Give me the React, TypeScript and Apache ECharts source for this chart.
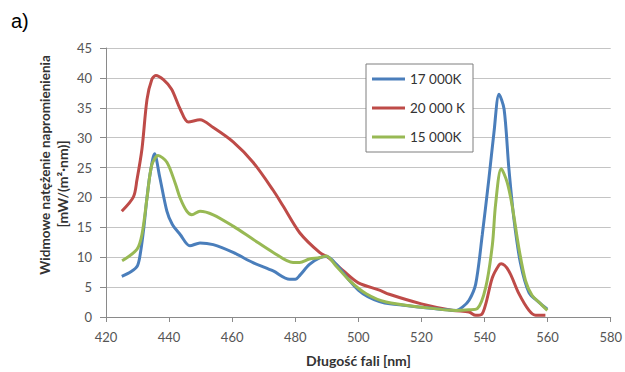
import React, { useEffect, useRef } from "react";
import * as echarts from "echarts";

const xTicks = { min: 420, max: 580, interval: 20 };
const yTicks = { min: 0, max: 45, interval: 5 };

const legendNames = ["17 000K", "20 000 K", "15 000K"];
const xAxisTitle = "Długość fali [nm]";
const yAxisTitleLines = ["Widmowe natężenie napromienienia", "[mW/(m²·nm)]"];

const blueX = [425, 428, 430, 431, 432, 433, 434, 435.4, 437, 439.3, 441, 443.5, 446.6, 449.8, 454, 460.3, 466.6, 473, 478.2, 480, 481.5, 484.5, 487.7, 490, 493, 497, 500, 503, 506.7, 510, 520, 531, 533, 535.1, 537.2, 539.3, 541.4, 543, 544.6, 546.2, 547.7, 549.3, 551.4, 554.1, 557.2, 559.9];
const blueY = [6.8, 7.6, 8.6, 11, 15, 20, 24, 27.3, 23.5, 17.7, 15.5, 13.8, 11.9, 12.4, 12.1, 10.8, 9.1, 7.7, 6.3, 6.3, 7, 8.8, 9.9, 10.1, 8.8, 6.2, 4.5, 3.4, 2.6, 2.2, 1.65, 1.1, 1.65, 2.8, 5.5, 13.8, 23.2, 30.9, 37.25, 34.8, 25, 16.5, 9, 4.1, 2.5, 1.3];

const redX = [425, 428.7, 429.8, 431.4, 433, 434.5, 435.8, 438.2, 440.8, 443.5, 446.1, 449.8, 454, 460.3, 466.6, 473, 476.1, 481.4, 487.7, 490.6, 495.3, 500, 506.7, 509.8, 520, 530, 535.1, 537.2, 539.1, 540.4, 542.5, 544.6, 545.3, 547.7, 550.9, 554.1, 556.2, 559.3];
const redY = [17.7, 20.1, 22.9, 28.1, 36.4, 39.7, 40.4, 39.7, 38.1, 34.8, 32.6, 33, 31.7, 29.3, 25.9, 21.2, 18.6, 14.1, 10.8, 9.9, 7.7, 5.7, 4.5, 3.8, 2.2, 1.1, 0.83, 0.28, 0.44, 2.2, 6.6, 8.7, 8.9, 7.7, 3.9, 1.1, 0.3, 0.3];

const greenX = [425.1, 429.8, 431.4, 433, 434.5, 436.5, 439.3, 442, 443.5, 445.6, 447.2, 449.8, 454, 460.3, 466.6, 473, 479.3, 481.4, 484.5, 487.7, 489.8, 493, 497.2, 502.5, 508.8, 520, 531, 535, 537.7, 540.4, 542.5, 543.5, 545.3, 547.2, 548.8, 550.9, 553, 555.1, 557.2, 559.9];
const greenY = [9.4, 11.3, 13.8, 19.9, 25.4, 27, 25.9, 22.3, 19.9, 17.7, 17.1, 17.7, 17.1, 15.2, 13, 10.8, 9.1, 9.1, 9.7, 9.9, 10.2, 8.5, 6.1, 3.9, 2.5, 1.65, 1.1, 1.2, 1.4, 5, 12.1, 18.8, 24.8, 22.5, 18.5, 11.5, 6.1, 3.6, 2.5, 1.1];

const colors = ["#4A7EBB", "#BE4B48", "#98B954"];

function pairs(xs: number[], ys: number[]) {
  return xs.map((x, i) => [x, ys[i]]);
}

export default function App() {
  const ref = useRef<HTMLDivElement>(null);
  useEffect(() => {
    if (!ref.current) return;
    const chart = echarts.init(ref.current, null, { renderer: "svg" });
    const font = "Lato, 'Open Sans', sans-serif";
    chart.setOption({
      animation: false,
      backgroundColor: "#ffffff",
      title: {
        text: "a)",
        left: 6,
        top: 6,
        textStyle: { fontFamily: "'Liberation Sans', Arial, sans-serif", fontSize: 20, fontWeight: "normal", color: "#000" },
      },
      legend: {
        orient: "vertical",
        left: 366,
        top: 64,
        width: 105,
        data: legendNames,
        icon: "rect",
        itemWidth: 33,
        itemHeight: 3,
        itemGap: 15,
        padding: [8, 8, 8, 6],
        borderColor: "#7f7f7f",
        borderWidth: 1,
        backgroundColor: "#ffffff",
        textStyle: { fontFamily: font, fontSize: 13.5, color: "#333" },
      },
      graphic: [
        {
          type: "text",
          x: 45,
          y: 165,
          rotation: Math.PI / 2,
          style: { text: yAxisTitleLines[0], fontFamily: font, fontSize: 13.5, fontWeight: "bold", fill: "#333", align: "center", verticalAlign: "middle" },
        },
        {
          type: "text",
          x: 62,
          y: 184,
          rotation: Math.PI / 2,
          style: { text: yAxisTitleLines[1], fontFamily: font, fontSize: 14, fontWeight: "bold", fill: "#333", align: "center", verticalAlign: "middle" },
        },
      ],
      grid: { left: 106, right: 14, top: 48, bottom: 52 },
      xAxis: {
        type: "value",
        min: xTicks.min,
        max: xTicks.max,
        interval: xTicks.interval,
        name: xAxisTitle,
        nameLocation: "middle",
        nameGap: 36,
        nameTextStyle: { fontFamily: font, fontSize: 14, fontWeight: "bold", color: "#333" },
        axisLine: { show: true, lineStyle: { color: "#8a8a8a", width: 1 } },
        axisTick: { show: true, length: 5, inside: false, lineStyle: { color: "#8a8a8a" } },
        axisLabel: { fontFamily: font, fontSize: 13, color: "#555", margin: 13 },
        splitLine: { show: false },
      },
      yAxis: {
        type: "value",
        min: yTicks.min,
        max: yTicks.max,
        interval: yTicks.interval,
        axisLine: { show: true, lineStyle: { color: "#8a8a8a", width: 1 } },
        axisTick: { show: true, length: 6, lineStyle: { color: "#8a8a8a" } },
        axisLabel: { fontFamily: font, fontSize: 13, color: "#555", margin: 14 },
        splitLine: { show: true, lineStyle: { color: "#c4c4c4", width: 1 } },
      },
      series: [
        { name: legendNames[0], type: "line", data: pairs(blueX, blueY), smooth: 0.3, showSymbol: false, color: colors[0], lineStyle: { width: 3, color: colors[0] }, z: 3 },
        { name: legendNames[1], type: "line", data: pairs(redX, redY), smooth: 0.3, showSymbol: false, color: colors[1], lineStyle: { width: 3, color: colors[1] }, z: 2 },
        { name: legendNames[2], type: "line", data: pairs(greenX, greenY), smooth: 0.3, showSymbol: false, color: colors[2], lineStyle: { width: 3, color: colors[2] }, z: 4 },
      ],
    });
    return () => chart.dispose();
  }, []);
  return <div ref={ref} style={{ width: 625, height: 372, position: "absolute", left: 0, top: 0 }} />;
}
